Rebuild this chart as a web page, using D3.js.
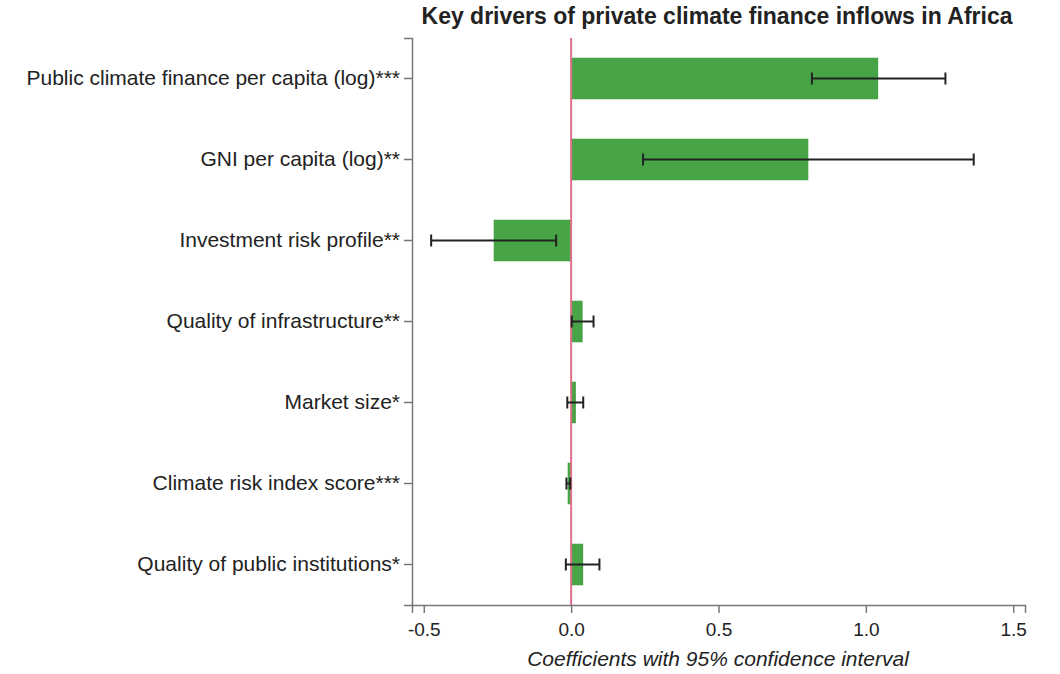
<!DOCTYPE html>
<html>
<head>
<meta charset="utf-8">
<script src="https://cdn.jsdelivr.net/npm/d3@7"></script>
<style>
  body { margin: 0; background: #fff; }
  text { font-family: "Liberation Sans", Arial, sans-serif; fill: #222; }
</style>
</head>
<body>
<svg id="canvas"></svg>
<script>
"use strict";

const drivers = [
  "Public climate finance per capita (log)***",
  "GNI per capita (log)**",
  "Investment risk profile**",
  "Quality of infrastructure**",
  "Market size*",
  "Climate risk index score***",
  "Quality of public institutions*",
];
const coefficients = [1.04, 0.803, -0.261, 0.037, 0.014, -0.01, 0.039];
const ciLow = [0.817, 0.244, -0.475, 0.002, -0.013, -0.016, -0.018];
const ciHigh = [1.27, 1.366, -0.051, 0.076, 0.041, -0.003, 0.096];
const xTicks = [-0.5, 0, 0.5, 1, 1.5];

const width = 1060;
const height = 674;
const plotLeft = 412;
const plotRight = 1025;
const plotTop = 38;
const plotBottom = 605;

const dataset = drivers.map((name, i) => ({
  name,
  coef: coefficients[i],
  lo: ciLow[i],
  hi: ciHigh[i],
}));

const canvas = d3.select("#canvas").attr("width", width).attr("height", height);

const xScale = d3
  .scaleLinear()
  .domain([-0.54, 1.54])
  .range([plotLeft, plotRight]);

const yScale = d3
  .scaleBand()
  .domain(drivers)
  .range([plotTop, plotBottom])
  .paddingInner(0.5)
  .paddingOuter(0.25);

// bars
canvas
  .selectAll("rect.bar")
  .data(dataset)
  .enter()
  .append("rect")
  .attr("class", "bar")
  .attr("x", (d) => xScale(Math.min(0, d.coef)))
  .attr("width", (d) => Math.abs(xScale(d.coef) - xScale(0)))
  .attr("y", (d) => yScale(d.name))
  .attr("height", yScale.bandwidth())
  .attr("fill", "#47a447")
  .attr("stroke", "#3a9a3a")
  .attr("stroke-width", 1);

// zero line
canvas
  .append("line")
  .attr("x1", xScale(0))
  .attr("x2", xScale(0))
  .attr("y1", plotTop)
  .attr("y2", plotBottom)
  .attr("stroke", "#e0708a")
  .attr("stroke-width", 2);

// error bars
const errs = canvas.append("g").attr("stroke", "#222").attr("stroke-width", 2);
const mid = (d) => yScale(d.name) + yScale.bandwidth() / 2;

errs
  .selectAll("line.ci")
  .data(dataset)
  .enter()
  .append("line")
  .attr("x1", (d) => xScale(d.lo))
  .attr("x2", (d) => xScale(d.hi))
  .attr("y1", mid)
  .attr("y2", mid);

["lo", "hi"].forEach((k) => {
  errs
    .selectAll("line.cap-" + k)
    .data(dataset)
    .enter()
    .append("line")
    .attr("x1", (d) => xScale(d[k]))
    .attr("x2", (d) => xScale(d[k]))
    .attr("y1", (d) => mid(d) - 6)
    .attr("y2", (d) => mid(d) + 6);
});

// axes
const xAxis = d3
  .axisBottom(xScale)
  .tickValues(xTicks)
  .tickSizeOuter(0)
  .tickSize(8)
  .tickPadding(10)
  .tickFormat((d) => (d < 0 ? "-" : "") + d3.format(".1f")(Math.abs(d)));

const yAxis = d3.axisLeft(yScale).tickSizeOuter(0).tickSize(8).tickPadding(4);

const gx = canvas
  .append("g")
  .attr("id", "x-axis")
  .attr("transform", `translate(0,${plotBottom})`)
  .call(xAxis);

const gy = canvas
  .append("g")
  .attr("id", "y-axis")
  .attr("transform", `translate(${plotLeft},0)`)
  .call(yAxis);

[gx, gy].forEach((g) => {
  g.select(".domain").attr("stroke", "#777").attr("stroke-width", 1.5);
  g.selectAll(".tick line").attr("stroke", "#777").attr("stroke-width", 1.5);
  g.selectAll(".tick text").attr("fill", "#222").attr("font-family", null);
});
gx.selectAll(".tick text").attr("font-size", 19);
gy.selectAll(".tick text").attr("font-size", 21);

// title
canvas
  .append("text")
  .attr("x", 717)
  .attr("y", 24)
  .attr("text-anchor", "middle")
  .attr("font-size", 23)
  .attr("font-weight", "bold")
  .attr("fill", "#111")
  .text("Key drivers of private climate finance inflows in Africa");

// x axis label
canvas
  .append("text")
  .attr("x", 718)
  .attr("y", 666)
  .attr("text-anchor", "middle")
  .attr("font-size", 21)
  .attr("font-style", "italic")
  .text("Coefficients with 95% confidence interval");
</script>
</body>
</html>
